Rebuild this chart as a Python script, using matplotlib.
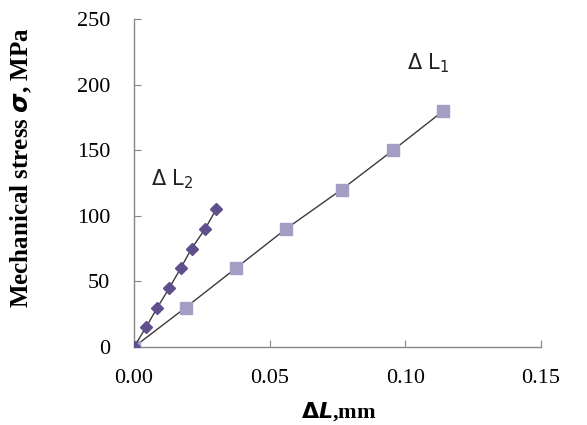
import matplotlib
matplotlib.use("Agg")
import matplotlib.pyplot as plt

# strain data
dl1_mm = [0.0, 0.019, 0.0375, 0.056, 0.0765, 0.0955, 0.114]
dl1_mpa = [0, 30, 60, 90, 120, 150, 180]
dl2_mm = [0.0, 0.0044, 0.0086, 0.013, 0.0172, 0.0212, 0.0262, 0.0303]
dl2_mpa = [0, 15, 30, 45, 60, 75, 90, 105]

x_ticks = [0.0, 0.05, 0.10, 0.15]
y_ticks = [0, 50, 100, 150, 200, 250]

fig = plt.figure(figsize=(5.87, 4.25), dpi=100)
ax = fig.add_axes([134 / 587, 1 - 347 / 425, (541 - 134) / 587, (347 - 19) / 425])

ax.plot(dl1_mm, dl1_mpa, color="#3a3a3a", lw=1.0, marker="s", ms=9,
        mfc="#a59dc4", mec="#a59dc4", zorder=3)
ax.plot(dl2_mm, dl2_mpa, color="#3a3a3a", lw=1.0, marker="D", ms=6.5,
        mfc="#5f4f8c", mec="#5f4f8c", zorder=4)

ax.text(0.1085, 216, r"$\Delta$ L$_1$", fontsize=15, family="DejaVu Sans",
        ha="center", va="center", color="#222222")
ax.text(0.014, 128, r"$\Delta$ L$_2$", fontsize=15, family="DejaVu Sans",
        ha="center", va="center", color="#222222")

ax.set_xlim(0, 0.15)
ax.set_ylim(0, 250)
ax.set_xticks(x_ticks)
ax.set_xticklabels([f"{t:.2f}" for t in x_ticks])
ax.set_yticks(y_ticks)
ax.tick_params(direction="in", length=5, color="#868686", labelsize=16)
ax.tick_params(axis="x", pad=16)
ax.tick_params(axis="y", pad=17)
for lab in ax.get_xticklabels() + ax.get_yticklabels():
    lab.set_family("Liberation Serif")

for s in ["top", "right"]:
    ax.spines[s].set_visible(False)
for s in ["left", "bottom"]:
    ax.spines[s].set_color("#868686")
    ax.spines[s].set_linewidth(1.0)

ax.set_xlabel(r"$\mathbf{\Delta}\boldsymbol{L}$,mm", family="Liberation Serif",
              fontsize=16, fontweight="bold")
ax.xaxis.set_label_coords(0.504, -0.162)
ax.set_ylabel(r"Mechanical stress $\boldsymbol{\sigma}$, MPa", family="Liberation Serif",
              fontsize=18, fontweight="bold")
ax.yaxis.set_label_coords(-0.245, 0.546)

fig.savefig("out.png", dpi=100)
